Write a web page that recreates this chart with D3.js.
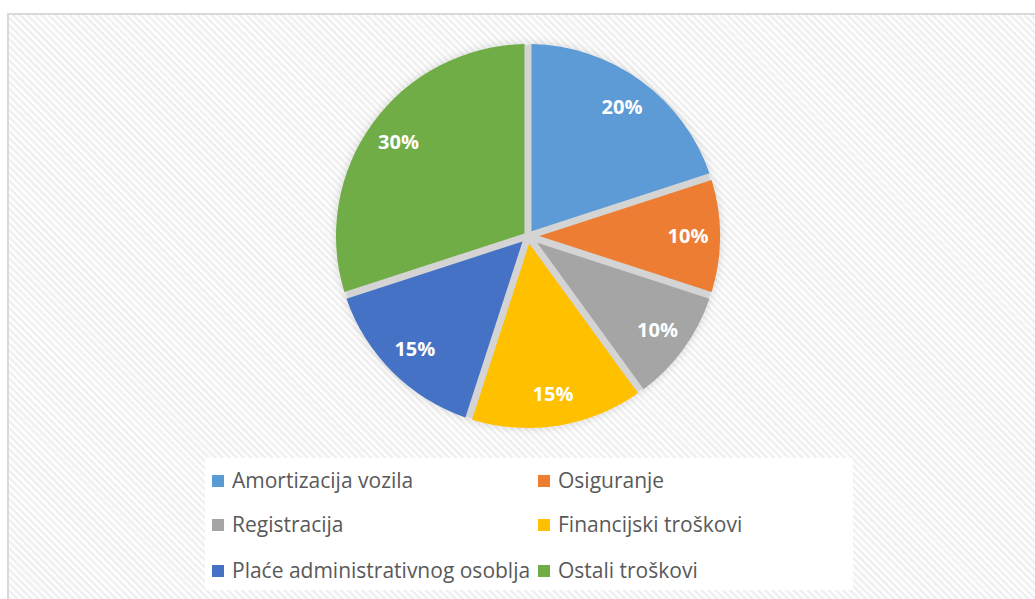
<!DOCTYPE html>
<html>
<head>
<meta charset="utf-8">
<script src="https://cdn.jsdelivr.net/npm/d3@7"></script>
<style>
  body { margin: 0; background: #fff; }
  svg { display: block; }
</style>
</head>
<body>
<div id="pie_chart"></div>
<script>
const width = 1035, height = 599;

// data
const categories = ["Amortizacija vozila", "Osiguranje", "Registracija",
  "Financijski troškovi", "Plaće administrativnog osoblja", "Ostali troškovi"];
const shares = [20, 10, 10, 15, 15, 30];
const colors = ["#5B9BD5", "#ED7D31", "#A5A5A5", "#FFC000", "#4472C4", "#70AD47"];

const cx = 528, cy = 236;
const radius = 192;
const gap = 7;

const svg = d3.select("#pie_chart")
    .append("svg")
    .attr("width", width)
    .attr("height", height);

const defs = svg.append("defs");

// diagonal hatch background
const pat = defs.append("pattern")
    .attr("id", "hatch")
    .attr("patternUnits", "userSpaceOnUse")
    .attr("width", 5)
    .attr("height", 5)
    .attr("patternTransform", "rotate(45)");
pat.append("rect").attr("width", 5).attr("height", 5).attr("fill", "#ffffff");
pat.append("rect").attr("width", 5).attr("height", 2.5).attr("fill", "#efefef");

const shadow = defs.append("filter")
    .attr("id", "shadow")
    .attr("x", "-20%").attr("y", "-20%")
    .attr("width", "140%").attr("height", "140%");
shadow.append("feDropShadow")
    .attr("dx", 0).attr("dy", 0)
    .attr("stdDeviation", 4)
    .attr("flood-color", "#000")
    .attr("flood-opacity", 0.16);

// chart area with frame
svg.append("rect")
    .attr("x", 8).attr("y", 14)
    .attr("width", width + 10).attr("height", height + 10)
    .attr("fill", "url(#hatch)")
    .attr("stroke", "#d9d9d9")
    .attr("stroke-width", 2);

const g = svg.append("g")
    .attr("transform", `translate(${cx}, ${cy})`);

const pie = d3.pie()
    .value(d => d[1])
    .sort(null);
const data_ready = pie(d3.zip(categories, shares));

const color = d3.scaleOrdinal()
    .domain(categories)
    .range(colors);

// inner radius per slice so the gaps between slices stay parallel
const arcGenerator = d3.arc()
    .innerRadius(d => (gap / 2) / Math.sin((d.endAngle - d.startAngle) / 2))
    .outerRadius(radius)
    .padAngle(gap / 100)
    .padRadius(100);

const labelArc = d3.arc()
    .innerRadius(160)
    .outerRadius(160);

const pieG = g.append("g").attr("filter", "url(#shadow)");

pieG.append("circle")
    .attr("r", radius - 1)
    .attr("fill", "#d4d4d4");

pieG.selectAll("path")
    .data(data_ready)
    .join("path")
    .attr("d", arcGenerator)
    .attr("fill", d => color(d.data[0]));

g.selectAll("text.lbl")
    .data(data_ready)
    .join("text")
    .attr("class", "lbl")
    .attr("transform", d => `translate(${labelArc.centroid(d)})`)
    .attr("text-anchor", "middle")
    .attr("dy", "0.36em")
    .attr("fill", "#fff")
    .style("font-family", "'Open Sans', sans-serif")
    .style("font-weight", "bold")
    .style("font-size", "20px")
    .text(d => d.data[1] + "%");

// legend
const legend = svg.append("g");
legend.append("rect")
    .attr("x", 205).attr("y", 458)
    .attr("width", 648).attr("height", 132)
    .attr("fill", "#fff");

const colX = [212, 538];
const rowY = [481, 525, 571];

const items = legend.selectAll("g.item")
    .data(categories)
    .join("g")
    .attr("class", "item")
    .attr("transform", (d, i) => `translate(${colX[i % 2]}, ${rowY[Math.floor(i / 2)]})`);

items.append("rect")
    .attr("x", 0).attr("y", -6)
    .attr("width", 12).attr("height", 12)
    .attr("fill", d => color(d));

items.append("text")
    .attr("x", 20)
    .attr("dy", "0.35em")
    .attr("fill", "#595959")
    .style("font-family", "'Open Sans', sans-serif")
    .style("font-size", "21px")
    .text(d => d);
</script>
</body>
</html>
